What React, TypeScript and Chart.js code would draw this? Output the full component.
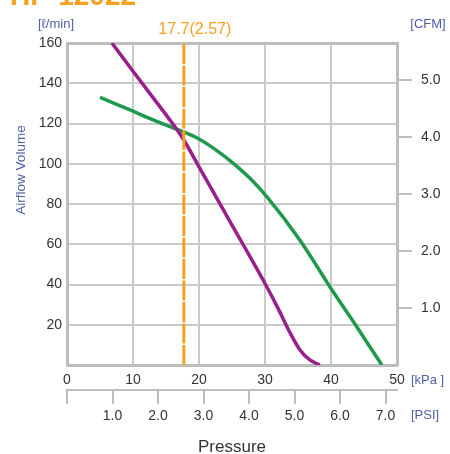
import React, { useEffect, useRef } from 'react';
import { Chart, registerables } from 'chart.js';

Chart.register(...registerables);

// ---- data ----
const purplePressure = [6.8, 10, 13, 16.1, 17.7, 20, 25, 30, 32, 33.8, 35.3, 36.8, 38.3];
const purpleAirflow = [160, 146, 133, 119.5, 111.8, 98.5, 69.5, 40.5, 28, 16, 7.5, 2.5, 0];
const greenPressure = [5.0, 7.5, 10.1, 12.5, 15.6, 17.7, 20.0, 22.5, 25.2, 27.8, 30.3, 35.3, 40.2, 43.9, 47.7];
const greenAirflow = [133, 129.5, 126, 122.5, 118.4, 115.8, 112.3, 107, 100.2, 92.5, 83.5, 62, 37, 19, 0];
const operatingPressure = 17.7;
const operatingLabel = '17.7(2.57)';
const titleText = 'HP-12022';
const airflowMin = 0;
const airflowMax = 160;
const pressureMin = 0;
const pressureMax = 50;
const LPM_PER_CFM = 28.317;
const KPA_PER_PSI = 6.895;

const ORANGE = '#F6A01E';
const PURPLE = '#9A1F8C';
const GREEN = '#1F9A4C';
const GRID = '#cacaca';
const BORDER = '#bdbdbd';
const TICK = '#333333';
const BLUE = '#4f5fa6';
const FONT = '"Liberation Sans", Arial, sans-serif';

const textPlugin = {
  id: 'extraText',
  afterDraw(chart: any) {
    const ctx = chart.ctx;
    const xs = chart.scales.x;
    ctx.save();
    ctx.fillStyle = ORANGE;
    ctx.font = `bold 28px ${FONT}`;
    ctx.textAlign = 'left';
    ctx.textBaseline = 'alphabetic';
    ctx.fillText(titleText, 10, 5);

    ctx.fillStyle = BLUE;
    ctx.font = `13px ${FONT}`;
    ctx.textAlign = 'center';
    ctx.textBaseline = 'middle';
    ctx.fillText('[ℓ/min]', 56, 24);
    ctx.fillText('[CFM]', 428, 24);

    ctx.textAlign = 'left';
    ctx.fillText('[kPa ]', 411, 380);
    ctx.fillText('[PSI]', 411, 415);

    ctx.fillStyle = ORANGE;
    ctx.font = `16px ${FONT}`;
    ctx.textAlign = 'center';
    ctx.fillText(operatingLabel, xs.getPixelForValue(operatingPressure) + 11, 30);

    ctx.translate(21, 170);
    ctx.rotate(-Math.PI / 2);
    ctx.fillStyle = BLUE;
    ctx.font = `13.5px ${FONT}`;
    ctx.textAlign = 'center';
    ctx.textBaseline = 'middle';
    ctx.fillText('Airflow Volume', 0, 0);
    ctx.restore();
  },
};

export default function App() {
  const ref = useRef<HTMLCanvasElement>(null);

  useEffect(() => {
    if (!ref.current) return;
    const toPts = (xs: number[], ys: number[]) => xs.map((x, i) => ({ x, y: ys[i] }));
    const tickFont = { family: FONT, size: 14 };
    const chart = new Chart(ref.current, {
      type: 'line',
      data: {
        datasets: [
          {
            data: [
              { x: operatingPressure, y: airflowMin },
              { x: operatingPressure, y: airflowMax },
            ],
            borderColor: ORANGE,
            borderWidth: 3,
            borderDash: [20, 1.5],
            pointRadius: 0,
          },
          {
            data: toPts(purplePressure, purpleAirflow),
            borderColor: PURPLE,
            borderWidth: 3.5,
            pointRadius: 0,
            cubicInterpolationMode: 'monotone',
          },
          {
            data: toPts(greenPressure, greenAirflow),
            borderColor: GREEN,
            borderWidth: 3.5,
            pointRadius: 0,
            cubicInterpolationMode: 'monotone',
          },
        ],
      },
      options: {
        animation: false,
        responsive: false,
        layout: { padding: { top: 43, left: 0, right: 0, bottom: 0 } },
        plugins: { legend: { display: false }, tooltip: { enabled: false } },
        scales: {
          x: {
            type: 'linear',
            position: 'bottom',
            weight: 0,
            min: pressureMin,
            max: pressureMax,
            ticks: { stepSize: 10, font: tickFont, color: TICK, padding: 7, maxRotation: 0 },
            grid: {
              color: (c: any) => (c.tick && (c.tick.value === pressureMax) ? BORDER : GRID),
              lineWidth: (c: any) => (c.tick && (c.tick.value === pressureMax) ? 3 : 2),
              drawTicks: false,
            },
            border: { display: true, color: BORDER, width: 3 },
            afterFit: (s: any) => { s.height = 25; },
          },
          x2: {
            type: 'linear',
            position: 'bottom',
            weight: 1,
            min: 0,
            max: pressureMax / KPA_PER_PSI,
            ticks: {
              stepSize: 1,
              includeBounds: false,
              font: tickFont,
              color: TICK,
              padding: 4,
              maxRotation: 0,
              callback: (v: any) => (Number(v) === 0 ? '' : Number(v).toFixed(1)),
            },
            grid: { drawOnChartArea: false, drawTicks: true, tickLength: 14, color: BORDER, lineWidth: 2 },
            border: { display: true, color: BORDER, width: 2 },
            title: {
              display: true,
              text: 'Pressure',
              color: '#333333',
              font: { family: FONT, size: 17, lineHeight: 1 },
              padding: { top: 0, bottom: -2 },
            },
            afterFit: (s: any) => { s.height = 64; },
          },
          y: {
            type: 'linear',
            position: 'left',
            min: airflowMin,
            max: airflowMax,
            ticks: {
              stepSize: 20,
              font: tickFont,
              color: TICK,
              padding: 5,
              callback: (v: any) => (Number(v) === 0 ? '' : String(v)),
            },
            grid: {
              color: (c: any) => (c.tick && c.tick.value === airflowMax ? BORDER : GRID),
              lineWidth: (c: any) => (c.tick && c.tick.value === airflowMax ? 3 : 2),
              drawTicks: false,
            },
            border: { display: true, color: BORDER, width: 3 },
            afterFit: (s: any) => { s.width = 67; },
          },
          y2: {
            type: 'linear',
            position: 'right',
            min: airflowMin / LPM_PER_CFM,
            max: airflowMax / LPM_PER_CFM,
            ticks: {
              stepSize: 1,
              includeBounds: false,
              font: tickFont,
              color: TICK,
              padding: 9,
              callback: (v: any) => Number(v).toFixed(1),
            },
            afterBuildTicks: (s: any) => { s.ticks = s.ticks.filter((t: any) => t.value !== 0); },
            grid: { drawOnChartArea: false, drawTicks: true, tickLength: 15, color: BORDER, lineWidth: 2 },
            border: { display: true, color: BORDER, width: 3 },
            afterFit: (s: any) => { s.width = 53; },
          },
        },
      } as any,
      plugins: [textPlugin],
    });
    return () => chart.destroy();
  }, []);

  return (
    <div style={{ position: 'absolute', left: 0, top: 0, width: 450, height: 454, background: '#fff' }}>
      <canvas ref={ref} width={450} height={454} style={{ width: 450, height: 454, display: 'block' }} />
    </div>
  );
}
